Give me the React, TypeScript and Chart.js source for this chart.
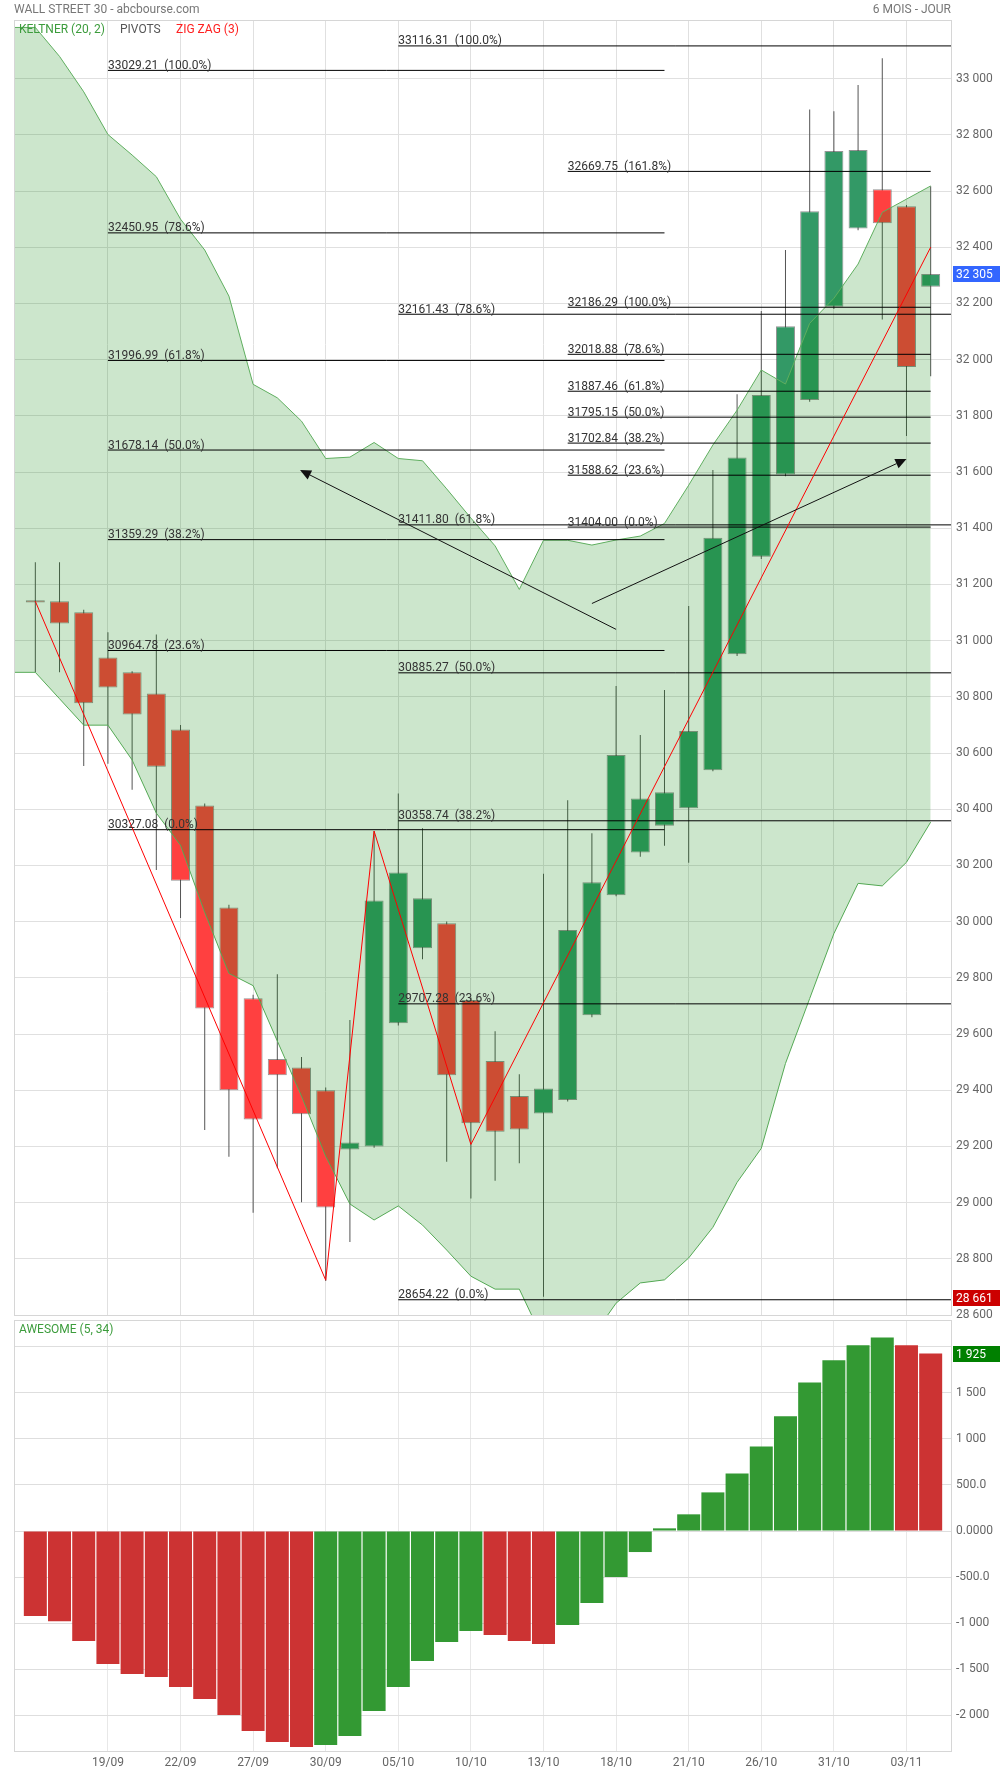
import React, { useEffect, useRef } from 'react';
import { Chart, registerables } from 'chart.js';

Chart.register(...registerables);

// ---------------- DATA ----------------
const dates = ['14/09','15/09','16/09','19/09','20/09','21/09','22/09','23/09','26/09','27/09','28/09','29/09','30/09','03/10','04/10','05/10','06/10','07/10','10/10','11/10','12/10','13/10','14/10','17/10','18/10','19/10','20/10','21/10','24/10','25/10','26/10','27/10','28/10','31/10','01/11','02/11','03/11','04/11'];
const dateTickIdx = [3, 6, 9, 12, 15, 18, 21, 24, 27, 30, 33, 36];

const opens = [31144, 31140, 31101, 30940, 30887, 30812, 30684, 30413, 30050, 29727, 29511, 29481, 29400, 29189, 29200, 29638, 29905, 29994, 29721, 29504, 29379, 29317, 29365, 29667, 30094, 30246, 30341, 30403, 30539, 30951, 31298, 31591, 31856, 32188, 32467, 32606, 32546, 32259];
const highs = [31279, 31279, 31110, 31030, 30891, 31022, 30700, 30420, 30060, 29740, 29813, 29518, 29410, 29650, 30322, 30456, 30332, 30000, 29730, 29610, 29457, 30170, 30432, 30314, 30838, 30664, 30824, 31123, 31607, 31877, 32173, 32390, 32890, 32884, 32977, 33072, 32550, 32617];
const lows = [30887, 30887, 30554, 30562, 30469, 30184, 30013, 29258, 29163, 28964, 29122, 29001, 28721, 28860, 29195, 29630, 29866, 29145, 29015, 29078, 29140, 28665, 29360, 29660, 30090, 30231, 30270, 30209, 30535, 30945, 31290, 31585, 31850, 32180, 32460, 32143, 31728, 31941];
const closes = [31136, 31061, 30777, 30833, 30737, 30551, 30145, 29691, 29400, 29296, 29453, 29314, 28983, 29214, 30075, 30175, 30083, 29453, 29282, 29252, 29260, 29406, 29970, 30140, 30593, 30438, 30460, 30678, 31366, 31652, 31874, 32119, 32528, 32742, 32746, 32485, 31974, 32305];

// Keltner (20, 2) channel, first value is 13/09 (one session before the first candle)
const keltnerUpper = [33182, 33182, 33079, 32953, 32801, 32728, 32651, 32500, 32390, 32226, 31912, 31864, 31781, 31648, 31653, 31705, 31648, 31640, 31540, 31436, 31337, 31182, 31357, 31357, 31340, 31358, 31372, 31417, 31553, 31696, 31820, 31963, 31913, 32129, 32218, 32340, 32524, 32571, 32618];
const keltnerLower = [30887, 30887, 30793, 30699, 30699, 30575, 30386, 30272, 30033, 29816, 29772, 29575, 29379, 29165, 28995, 28938, 28988, 28920, 28831, 28738, 28692, 28692, 28510, 28470, 28520, 28642, 28714, 28725, 28803, 28912, 29072, 29193, 29495, 29726, 29957, 30136, 30127, 30211, 30354];

const zigzagIdx = [0, 12, 14, 18, 37];
const zigzagVal = [31140, 28724, 30322, 29207, 32400];

const fibAValues = [33029.21, 32450.95, 31996.99, 31678.14, 31359.29, 30964.78, 30327.08];
const fibAPcts = ['100.0%', '78.6%', '61.8%', '50.0%', '38.2%', '23.6%', '0.0%'];
const fibBValues = [33116.31, 32161.43, 31411.80, 30885.27, 30358.74, 29707.28, 28654.22];
const fibBPcts = ['100.0%', '78.6%', '61.8%', '50.0%', '38.2%', '23.6%', '0.0%'];
const fibCValues = [32669.75, 32186.29, 32018.88, 31887.46, 31795.15, 31702.84, 31588.62, 31404.00];
const fibCPcts = ['161.8%', '100.0%', '78.6%', '61.8%', '50.0%', '38.2%', '23.6%', '0.0%'];
const fibGroups = [
  { from: 3, to: 26, values: fibAValues, pcts: fibAPcts },
  { from: 15, to: 38, values: fibBValues, pcts: fibBPcts },
  { from: 22, to: 37, values: fibCValues, pcts: fibCPcts },
];

const arrowFromIdx = [24, 23];
const arrowFromVal = [31040, 31132];
const arrowToIdx = [10.94, 36];
const arrowToVal = [31607, 31646];

const priceTicks = [28600, 28800, 29000, 29200, 29400, 29600, 29800, 30000, 30200, 30400, 30600, 30800, 31000, 31200, 31400, 31600, 31800, 32000, 32200, 32400, 32600, 32800, 33000];
const lastPrice = 32305;
const lowMark = 28661;

const aoValues = [-922, -980, -1193, -1442, -1551, -1583, -1692, -1822, -1995, -2169, -2288, -2343, -2321, -2223, -1952, -1692, -1410, -1204, -1085, -1128, -1193, -1225, -1019, -781, -499, -228, 29, 181, 419, 625, 918, 1244, 1612, 1851, 2014, 2100, 2014, 1925];
const aoTicks = [-2000, -1500, -1000, -500, 0, 500, 1000, 1500, 2000];
// the 2 000 label is hidden behind the last-value tag in the reference
const aoTickLabels = ['-2 000', '-1 500', '-1 000', '-500.0', '0.0000', '500.0', '1 000', '1 500', ''];
const aoLast = 1925;

// ---------------- HELPERS ----------------
const X_MIN = -0.84;
const X_MAX = 37.84;
const FONT = 'Roboto';

const fmt = (v: number) => Math.round(v).toString().replace(/\B(?=(\d{3})+(?!\d))/g, ' ');

const RED = '#ff4040';
const GREEN = '#339966';

function drawTag(ctx: CanvasRenderingContext2D, chart: any, y: number, text: string, bg: string) {
  const x0 = chart.chartArea.right + 2;
  ctx.save();
  ctx.fillStyle = bg;
  ctx.fillRect(x0, Math.round(y) - 8, chart.width - x0, 16);
  ctx.fillStyle = '#ffffff';
  ctx.font = `12px ${FONT}`;
  ctx.textAlign = 'left';
  ctx.textBaseline = 'middle';
  ctx.fillText(text, x0 + 3, Math.round(y) + 0.5);
  ctx.restore();
}

function drawFrame(chart: any) {
  const { ctx, chartArea: a } = chart;
  ctx.save();
  ctx.strokeStyle = '#d6d6d6';
  ctx.lineWidth = 1;
  ctx.strokeRect(a.left - 0.5, a.top - 0.5, a.right - a.left + 1, a.bottom - a.top + 1);
  ctx.restore();
}

const pricePlugin = {
  id: 'pricePlugin',
  beforeDatasetsDraw(chart: any) {
    drawFrame(chart);
  },
  afterDatasetsDraw(chart: any) {
    const { ctx } = chart;
    const xs = chart.scales.x;
    const ys = chart.scales.y;
    ctx.save();
    ctx.font = `12px ${FONT}`;
    ctx.fillStyle = '#333';
    ctx.textAlign = 'left';
    ctx.textBaseline = 'alphabetic';
    fibGroups.forEach((g) => {
      g.values.forEach((v, i) => {
        const x = xs.getPixelForValue(g.from);
        const y = ys.getPixelForValue(v);
        ctx.fillText(`${v.toFixed(2)}  (${g.pcts[i]})`, x, y - 1.5);
      });
    });
    // arrows
    ctx.strokeStyle = '#111';
    ctx.fillStyle = '#111';
    ctx.lineWidth = 1;
    arrowFromIdx.forEach((fi, k) => {
      const x1 = xs.getPixelForValue(fi);
      const y1 = ys.getPixelForValue(arrowFromVal[k]);
      const x2 = xs.getPixelForValue(arrowToIdx[k]);
      const y2 = ys.getPixelForValue(arrowToVal[k]);
      const ang = Math.atan2(y2 - y1, x2 - x1);
      const L = 11, W = 5;
      const bx = x2 - L * Math.cos(ang);
      const by = y2 - L * Math.sin(ang);
      ctx.beginPath();
      ctx.moveTo(x1, y1);
      ctx.lineTo(bx, by);
      ctx.stroke();
      ctx.beginPath();
      ctx.moveTo(x2, y2);
      ctx.lineTo(bx + W * Math.sin(ang), by - W * Math.cos(ang));
      ctx.lineTo(bx - W * Math.sin(ang), by + W * Math.cos(ang));
      ctx.closePath();
      ctx.fill();
    });
    ctx.restore();
  },
  afterDraw(chart: any) {
    const { ctx } = chart;
    const ys = chart.scales.y;
    drawTag(ctx, chart, ys.getPixelForValue(lastPrice), fmt(lastPrice), '#3366ff');
    drawTag(ctx, chart, ys.getPixelForValue(lowMark), fmt(lowMark), '#cc0000');
    ctx.save();
    ctx.font = `12px ${FONT}`;
    ctx.textBaseline = 'alphabetic';
    ctx.fillStyle = '#777';
    ctx.textAlign = 'left';
    ctx.fillText('WALL STREET 30 - abcbourse.com', 14, 13);
    ctx.textAlign = 'right';
    ctx.fillText('6 MOIS - JOUR', chart.chartArea.right, 13);
    ctx.textAlign = 'left';
    ctx.fillStyle = '#3c9c3c';
    ctx.fillText('KELTNER (20, 2)', 19, 33);
    ctx.fillStyle = '#555';
    ctx.fillText('PIVOTS', 120, 33);
    ctx.fillStyle = '#ff2020';
    ctx.fillText('ZIG ZAG (3)', 176, 33);
    ctx.restore();
  },
};

const aoPlugin = {
  id: 'aoPlugin',
  beforeDatasetsDraw(chart: any) {
    drawFrame(chart);
  },
  afterDraw(chart: any) {
    const { ctx } = chart;
    const ys = chart.scales.y;
    drawTag(ctx, chart, ys.getPixelForValue(aoLast), fmt(aoLast), '#008000');
    ctx.save();
    ctx.font = `12px ${FONT}`;
    ctx.fillStyle = '#3c9c3c';
    ctx.textAlign = 'left';
    ctx.textBaseline = 'alphabetic';
    ctx.fillText('AWESOME (5, 34)', 19, chart.chartArea.top + 12);
    ctx.restore();
  },
};

export default function App() {
  const priceRef = useRef<HTMLCanvasElement>(null);
  const aoRef = useRef<HTMLCanvasElement>(null);

  useEffect(() => {
    Chart.defaults.font.family = FONT;
    Chart.defaults.font.size = 12;
    Chart.defaults.color = '#666';

    const bodies = opens.map((o, i) => ({ x: i, y: [o, closes[i]] }));
    const wicks = lows.map((l, i) => ({ x: i, y: [l, highs[i]] }));
    const bodyColors = opens.map((o, i) => (closes[i] >= o ? GREEN : RED));

    const fibDatasets = fibGroups.flatMap((g) =>
      g.values.map((v) => ({
        type: 'line',
        data: [{ x: g.from, y: v }, { x: g.to, y: v }],
        borderColor: '#000',
        borderWidth: 1,
        pointRadius: 0,
        fill: false,
        order: 0,
      }))
    );

    const priceChart = new Chart(priceRef.current as HTMLCanvasElement, {
      type: 'bar',
      data: {
        datasets: [
          {
            type: 'line',
            data: zigzagIdx.map((x, i) => ({ x, y: zigzagVal[i] })),
            borderColor: '#ff0000',
            borderWidth: 1,
            pointRadius: 0,
            fill: false,
            order: 0,
          },
          ...fibDatasets,
          {
            type: 'line',
            data: keltnerUpper.map((v, i) => ({ x: i - 1, y: v })),
            borderColor: '#5fae5f',
            borderWidth: 1,
            pointRadius: 0,
            backgroundColor: 'rgba(0,128,0,0.2)',
            fill: '+1',
            order: 1,
          },
          {
            type: 'line',
            data: keltnerLower.map((v, i) => ({ x: i - 1, y: v })),
            borderColor: '#5fae5f',
            borderWidth: 1,
            pointRadius: 0,
            fill: false,
            order: 1,
          },
          {
            type: 'bar',
            data: bodies,
            backgroundColor: bodyColors,
            borderColor: 'rgba(60,60,60,0.55)',
            borderWidth: 1,
            borderSkipped: false,
            barThickness: 19,
            grouped: false,
            inflateAmount: 0,
            order: 5,
          },
          {
            type: 'bar',
            data: wicks,
            backgroundColor: '#555',
            borderWidth: 0,
            barThickness: 1,
            grouped: false,
            inflateAmount: 0,
            order: 6,
          },
        ] as any,
      },
      options: {
        responsive: false,
        maintainAspectRatio: false,
        animation: false,
        devicePixelRatio: 1,
        events: [],
        layout: { padding: { left: 15, top: 21, right: 0, bottom: 15 } },
        plugins: { legend: { display: false }, tooltip: { enabled: false } },
        scales: {
          x: {
            type: 'linear',
            offset: false,
            min: X_MIN,
            max: X_MAX,
            afterBuildTicks: (s: any) => { s.ticks = dateTickIdx.map((v) => ({ value: v })); },
            afterFit: (s: any) => { s.height = 0; },
            ticks: { display: false },
            grid: { color: '#e0e0e0', drawTicks: false, offset: false },
            border: { display: false },
          },
          y: {
            type: 'linear',
            position: 'right',
            min: 28600,
            max: 33205,
            afterBuildTicks: (s: any) => { s.ticks = priceTicks.map((v) => ({ value: v })); },
            afterFit: (s: any) => { s.width = 49; },
            ticks: { padding: 5, color: '#666', font: { size: 12 }, callback: (v: any) => fmt(Number(v)) },
            grid: { color: '#e0e0e0', drawTicks: false },
            border: { display: false },
          },
        },
      } as any,
      plugins: [pricePlugin],
    });

    const aoColors = aoValues.map((v, i) => (i > 0 && v > aoValues[i - 1] ? '#339933' : '#cc3333'));

    const aoChart = new Chart(aoRef.current as HTMLCanvasElement, {
      type: 'bar',
      data: {
        datasets: [
          {
            data: aoValues.map((v, i) => ({ x: i, y: v })),
            backgroundColor: aoColors,
            borderWidth: 0,
            barThickness: 23,
            grouped: false,
            inflateAmount: 0,
          },
        ] as any,
      },
      options: {
        responsive: false,
        maintainAspectRatio: false,
        animation: false,
        devicePixelRatio: 1,
        events: [],
        layout: { padding: { left: 15, top: 21, right: 0, bottom: 0 } },
        plugins: { legend: { display: false }, tooltip: { enabled: false } },
        scales: {
          x: {
            type: 'linear',
            offset: false,
            min: X_MIN,
            max: X_MAX,
            afterBuildTicks: (s: any) => { s.ticks = dateTickIdx.map((v) => ({ value: v })); },
            afterFit: (s: any) => { s.height = 23; },
            ticks: {
              autoSkip: false,
              maxRotation: 0,
              padding: 5,
              color: '#666',
              font: { size: 12 },
              callback: (v: any) => dates[Number(v)] ?? '',
            },
            grid: { color: '#e8e8e8', drawTicks: false, offset: false },
            border: { display: false },
          },
          y: {
            type: 'linear',
            position: 'right',
            min: -2386,
            max: 2278,
            afterBuildTicks: (s: any) => { s.ticks = aoTicks.map((v) => ({ value: v })); },
            afterFit: (s: any) => { s.width = 49; },
            ticks: {
              padding: 5,
              color: '#666',
              font: { size: 12 },
              callback: (v: any) => aoTickLabels[aoTicks.indexOf(Number(v))] ?? '',
            },
            grid: { color: '#dedede', drawTicks: false },
            border: { display: false },
          },
        },
      } as any,
      plugins: [aoPlugin],
    });

    return () => {
      priceChart.destroy();
      aoChart.destroy();
    };
  }, []);

  return (
    <div style={{ position: 'absolute', left: 0, top: 0, width: 1000, height: 1774, background: '#ffffff', overflow: 'hidden' }}>
      <canvas ref={priceRef} width={1000} height={1330} style={{ position: 'absolute', left: 0, top: 0 }} />
      <canvas ref={aoRef} width={1000} height={474} style={{ position: 'absolute', left: 0, top: 1300 }} />
    </div>
  );
}
